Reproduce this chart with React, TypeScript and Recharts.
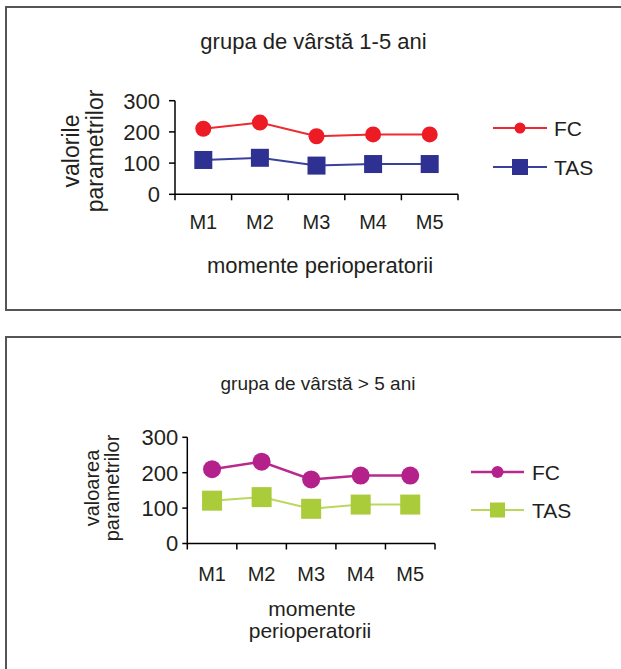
import { LineChart, Line, XAxis, YAxis, Legend } from 'recharts'

// momente perioperatorii
const moments = ['M1', 'M2', 'M3', 'M4', 'M5']

// grupa 1-5 ani
const fcYoung = [210, 230, 186, 192, 192]
const tasYoung = [110, 117, 92, 97, 97]

// grupa > 5 ani
const fcOld = [210, 231, 181, 192, 192]
const tasOld = [121, 131, 98, 110, 110]

const yTicks = [0, 100, 200, 300]
// category borders (0..5) plus category centres (0.5..4.5)
const xTicks = [0, 0.5, 1, 1.5, 2, 2.5, 3, 3.5, 4, 4.5, 5]

type Series = {
  key: string
  name: string
  color: string
  lineColor: string
  shape: 'circle' | 'square'
  size: number
  legendSize: number
  width: number
}

const youngSeries: Series[] = [
  { key: 'fc', name: 'FC', color: '#ED1C24', lineColor: '#EE2A30', shape: 'circle', size: 16, legendSize: 11, width: 2 },
  { key: 'tas', name: 'TAS', color: '#2E3192', lineColor: '#3A409C', shape: 'square', size: 18, legendSize: 16, width: 2 },
]

const oldSeries: Series[] = [
  { key: 'fc', name: 'FC', color: '#B5218A', lineColor: '#B82A8E', shape: 'circle', size: 18, legendSize: 12, width: 2.5 },
  { key: 'tas', name: 'TAS', color: '#AACB3A', lineColor: '#BCD75E', shape: 'square', size: 20, legendSize: 15, width: 2 },
]

// x = category slot centre
const youngData = moments.map((m, i) => ({ x: i + 0.5, name: m, fc: fcYoung[i], tas: tasYoung[i] }))
const oldData = moments.map((m, i) => ({ x: i + 0.5, name: m, fc: fcOld[i], tas: tasOld[i] }))

const font = '"Liberation Sans", Arial, sans-serif'
const ink = '#231F20'

function marker(s: Series) {
  return (p: any) => {
    if (p.cx == null || p.cy == null) return <g key={p.index} />
    const h = s.size / 2
    return s.shape === 'circle' ? (
      <circle key={p.index} cx={p.cx} cy={p.cy} r={h} fill={s.color} />
    ) : (
      <rect key={p.index} x={p.cx - h} y={p.cy - h} width={s.size} height={s.size} fill={s.color} />
    )
  }
}

function xTick(fontSize: number, labelGap: number) {
  return (props: any) => {
    const { x, y, payload } = props
    const v = payload.value
    if (Number.isInteger(v)) {
      return <line x1={x} x2={x} y1={y} y2={y + 6} stroke="#000" strokeWidth={1.5} />
    }
    return (
      <text x={x} y={y + labelGap} dy="0.71em" textAnchor="middle" fill={ink} fontSize={fontSize} fontFamily={font}>
        {moments[Math.floor(v)]}
      </text>
    )
  }
}

function SideLegend({ series, rowGap, fontSize, lineW, textGap }: { series: Series[]; rowGap: number; fontSize: number; lineW: number; textGap: number }) {
  return (
    <div style={{ fontFamily: font, fontSize, color: ink }}>
      {series.map((s, i) => (
        <div key={s.key} style={{ display: 'flex', alignItems: 'center', height: 24, marginTop: i === 0 ? 0 : rowGap - 24 }}>
          <svg width={lineW} height={24} style={{ display: 'block' }}>
            <line x1={0} x2={lineW} y1={12} y2={12} stroke={s.lineColor} strokeWidth={s.width} />
            {s.shape === 'circle' ? (
              <circle cx={lineW / 2} cy={12} r={s.legendSize / 2} fill={s.color} />
            ) : (
              <rect x={lineW / 2 - s.legendSize / 2} y={12 - s.legendSize / 2} width={s.legendSize} height={s.legendSize} fill={s.color} />
            )}
          </svg>
          <span style={{ marginLeft: textGap, lineHeight: 1 }}>{s.name}</span>
        </div>
      ))}
    </div>
  )
}

function Txt({ x, y, size, children, rotate }: { x: number; y: number; size: number; children: any; rotate?: boolean }) {
  return (
    <div
      style={{
        position: 'absolute',
        left: x,
        top: y,
        transform: `translate(-50%, -50%)${rotate ? ' rotate(-90deg)' : ''}`,
        fontFamily: font,
        fontSize: size,
        lineHeight: 1,
        color: ink,
        whiteSpace: 'nowrap',
      }}
    >
      {children}
    </div>
  )
}

type PanelCfg = {
  top: number
  height: number
  margin: { top: number; right: number; bottom: number; left: number }
  yTickSize: number
  yTickFont: number
  yTickMargin: number
  xTickFont: number
  xLabelGap: number
  legendLeft: number
  legendTop: number
  legendRowGap: number
  legendLineW: number
  legendTextGap: number
  legendFont: number
}

function Panel({ data, series, cfg }: { data: any[]; series: Series[]; cfg: PanelCfg }) {
  return (
    <div style={{ position: 'absolute', left: 0, top: cfg.top }}>
      <LineChart width={621} height={cfg.height} data={data} margin={cfg.margin}>
        <XAxis
          dataKey="x"
          type="number"
          domain={[0, 5]}
          ticks={xTicks}
          interval={0}
          height={30}
          axisLine={{ stroke: '#000', strokeWidth: 1.5 }}
          tickLine={false}
          tickSize={0}
          tickMargin={0}
          tick={xTick(cfg.xTickFont, cfg.xLabelGap)}
        />
        <YAxis
          domain={[0, 300]}
          ticks={yTicks}
          width={60}
          axisLine={{ stroke: '#000', strokeWidth: 1.5 }}
          tickLine={{ stroke: '#000', strokeWidth: 1.5 }}
          tickSize={cfg.yTickSize}
          tickMargin={cfg.yTickMargin}
          tick={{ fill: ink, fontSize: cfg.yTickFont, fontFamily: font }}
          interval={0}
        />
        <Legend
          layout="vertical"
          align="center"
          verticalAlign="middle"
          wrapperStyle={{ left: cfg.legendLeft, top: cfg.legendTop, width: 'auto' }}
          content={() => (
            <SideLegend
              series={series}
              rowGap={cfg.legendRowGap}
              fontSize={cfg.legendFont}
              lineW={cfg.legendLineW}
              textGap={cfg.legendTextGap}
            />
          )}
        />
        {series.map((s) => (
          <Line
            key={s.key}
            dataKey={s.key}
            name={s.name}
            type="linear"
            stroke={s.lineColor}
            strokeWidth={s.width}
            dot={marker(s)}
            activeDot={false}
            isAnimationActive={false}
          />
        ))}
      </LineChart>
    </div>
  )
}

const youngCfg: PanelCfg = {
  top: 0,
  height: 300,
  margin: { top: 100.7, right: 163, bottom: 75.7, left: 115 },
  yTickSize: 6,
  yTickFont: 22,
  yTickMargin: 9,
  xTickFont: 20,
  xLabelGap: 20.7,
  legendLeft: 493,
  legendTop: 116,
  legendRowGap: 39,
  legendLineW: 54,
  legendTextGap: 7,
  legendFont: 21,
}

const oldCfg: PanelCfg = {
  top: 330,
  height: 339,
  margin: { top: 107.3, right: 186, bottom: 95.5, left: 127.3 },
  yTickSize: 5,
  yTickFont: 22,
  yTickMargin: 4,
  xTickFont: 20,
  xLabelGap: 23.5,
  legendLeft: 471,
  legendTop: 130,
  legendRowGap: 38,
  legendLineW: 53,
  legendTextGap: 8,
  legendFont: 21,
}

export default function App() {
  return (
    <div style={{ position: 'absolute', left: 0, top: 0, width: 621, height: 669, overflow: 'hidden', background: '#fff' }}>
      <div style={{ position: 'absolute', left: 5, top: 6, width: 660, height: 301, border: '2px solid #555' }} />
      <div style={{ position: 'absolute', left: 5, top: 336, width: 660, height: 400, border: '2px solid #555' }} />

      <Txt x={313.5} y={42} size={22}>grupa de vârstă 1-5 ani</Txt>
      <Txt x={71} y={151} size={23} rotate>valorile</Txt>
      <Txt x={95} y={151} size={23} rotate>parametrilor</Txt>
      <Txt x={320} y={266} size={22}>momente perioperatorii</Txt>

      <Txt x={318} y={383} size={19}>grupa de vârstă &gt; 5 ani</Txt>
      <Txt x={92} y={488} size={20} rotate>valoarea</Txt>
      <Txt x={112} y={488} size={20} rotate>parametrilor</Txt>
      <Txt x={312} y={608} size={21}>momente</Txt>
      <Txt x={310} y={630} size={21}>perioperatorii</Txt>

      <Panel data={youngData} series={youngSeries} cfg={youngCfg} />
      <Panel data={oldData} series={oldSeries} cfg={oldCfg} />
    </div>
  )
}
